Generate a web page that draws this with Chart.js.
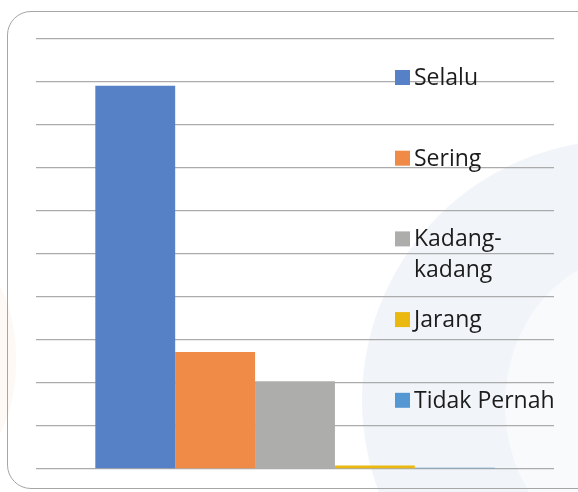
<!DOCTYPE html>
<html>
<head>
<meta charset="utf-8">
<script src="https://cdn.jsdelivr.net/npm/chart.js@4"></script>
<style>
  html, body { margin: 0; padding: 0; background: #fff; }
  #wrap { position: relative; width: 578px; height: 492px; overflow: hidden; }
  /* watermark du document source, très pâle */
  .wm { position: absolute; border-radius: 50%; }
  #wm1 { left: 362px; top: 140px; width: 520px; height: 520px; background: rgba(220, 229, 241, 0.4); }
  #wm2 { left: 505px; top: 255px; width: 260px; height: 300px; background: rgba(255, 255, 255, 0.5); }
  #wm3 { left: -60px; top: 270px; width: 76px; height: 180px; background: rgba(252, 232, 216, 0.25); }
  #box { position: absolute; left: 7px; top: 11px; width: 600px; height: 478px;
         border: 1.5px solid #a6a6a6; border-radius: 24px; box-sizing: border-box; }
  canvas { position: absolute; left: 0; top: 0; }
</style>
</head>
<body>
<div id="wrap">
  <div class="wm" id="wm1"></div>
  <div class="wm" id="wm2"></div>
  <div class="wm" id="wm3"></div>
  <div id="box"></div>
  <canvas id="chart" width="578" height="492"></canvas>
</div>
<script>
// Données (échelle 0–10, graduations non affichées)
const categories = [''];
const seriesLabels = ['Selalu', 'Sering', 'Kadang-kadang', 'Jarang', 'Tidak Pernah'];
const seriesValues = [8.91, 2.72, 2.04, 0.08, 0.03];
const seriesColors = ['#5781c7', '#ef8a47', '#adadac', '#ebb80f', '#5597d3'];
const yMax = 10;
const yStep = 1;

// Légende dessinée à droite, par-dessus les lignes de la grille
const rightLegend = {
    id: 'rightLegend',
    afterDraw(chart) {
        const ctx = chart.ctx;
        const top = chart.chartArea.top;
        const x0 = 395;
        ctx.save();
        ctx.font = '23px "Open Sans"';
        ctx.textBaseline = 'alphabetic';
        chart.data.datasets.forEach((ds, i) => {
            const baseline = top + 46 + i * 80.7;
            ctx.fillStyle = ds.backgroundColor;
            ctx.fillRect(x0, baseline - 15, 15, 15);
            ctx.fillStyle = '#1c1c1c';
            let lines = [ds.label];
            if (ctx.measureText(ds.label).width > 140 && ds.label.includes('-')) {
                const k = ds.label.indexOf('-');
                lines = [ds.label.slice(0, k + 1), ds.label.slice(k + 1)];
            }
            lines.forEach((t, j) => ctx.fillText(t, x0 + 19, baseline + j * 31));
        });
        ctx.restore();
    }
};

const datasets = seriesLabels.map((label, i) => ({
    label: label,
    data: [seriesValues[i]],
    backgroundColor: seriesColors[i],
    borderWidth: 0,
    categoryPercentage: 0.771,
    barPercentage: 1.0
}));

new Chart(document.getElementById('chart').getContext('2d'), {
    type: 'bar',
    data: { labels: categories, datasets: datasets },
    options: {
        responsive: false,
        animation: false,
        layout: { padding: { left: 36, right: 24, top: 39, bottom: 23 } },
        plugins: {
            legend: { display: false },
            tooltip: { enabled: false }
        },
        scales: {
            x: { display: false },
            y: {
                min: 0,
                max: yMax,
                ticks: { display: false, stepSize: yStep },
                border: { display: false },
                grid: { color: '#ababab', lineWidth: 1.3, drawTicks: false }
            }
        }
    },
    plugins: [rightLegend]
});
</script>
</body>
</html>
